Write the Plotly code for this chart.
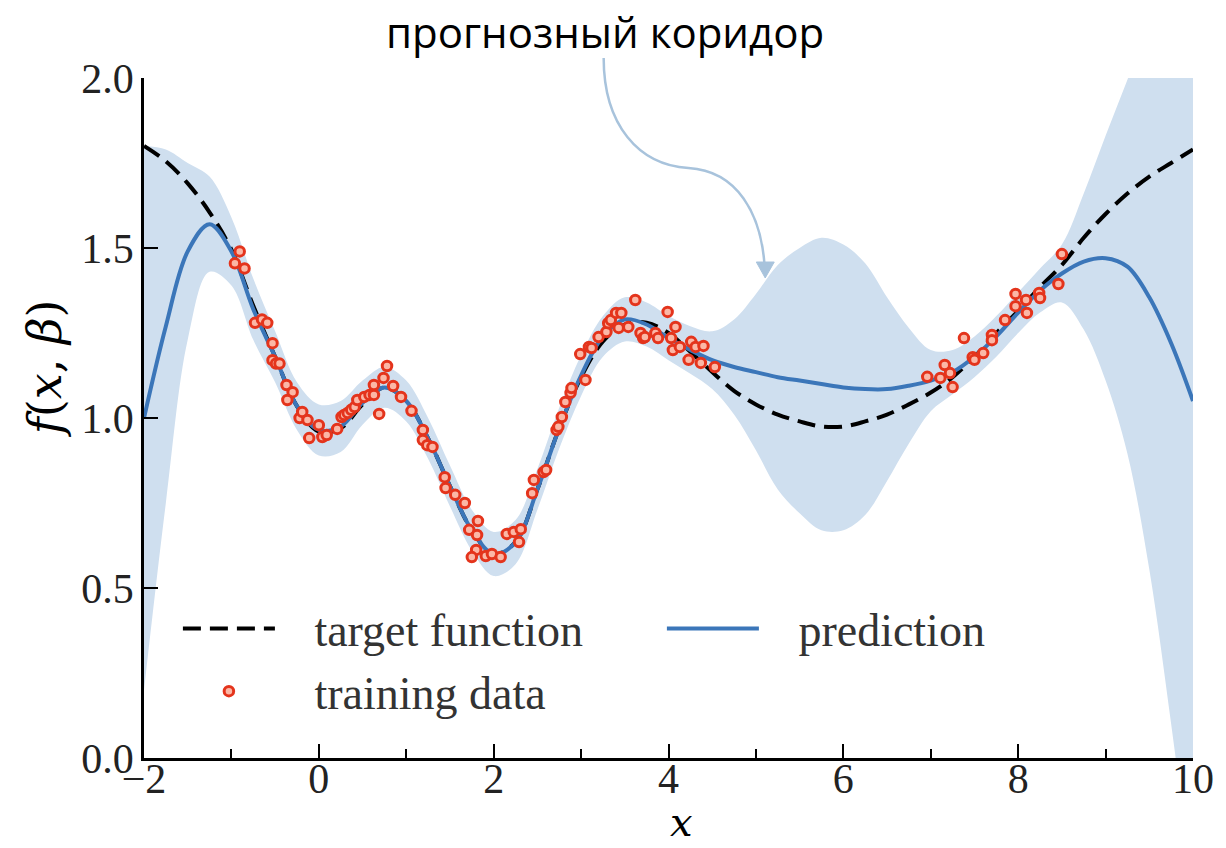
import plotly.graph_objects as go

# Grid on which the curves are sampled
x_grid = [-2.0, -1.75, -1.5, -1.25, -1.0, -0.75, -0.5, -0.25, 0.0, 0.25, 0.5, 0.75,
          1.0, 1.25, 1.5, 1.75, 2.0, 2.25, 2.5, 2.75, 3.0, 3.25, 3.5, 3.75,
          4.0, 4.25, 4.5, 4.75, 5.0, 5.25, 5.5, 5.75, 6.0, 6.25, 6.5, 6.75,
          7.0, 7.25, 7.5, 7.75, 8.0, 8.25, 8.5, 8.75, 9.0, 9.25, 9.5, 9.75, 10.0]

# Target function values
target = [1.80, 1.755, 1.69, 1.605, 1.495, 1.33, 1.18, 1.035, 0.96, 0.97, 1.04, 1.09,
          1.05, 0.94, 0.80, 0.67, 0.60, 0.635, 0.79, 0.97, 1.12, 1.225, 1.275, 1.28,
          1.25, 1.195, 1.135, 1.08, 1.04, 1.01, 0.99, 0.975, 0.975, 0.99, 1.01, 1.04,
          1.075, 1.12, 1.18, 1.25, 1.315, 1.385, 1.45, 1.53, 1.60, 1.66, 1.71, 1.75, 1.79]

# Model prediction (mean)
prediction = [1.00, 1.27, 1.49, 1.57, 1.49, 1.32, 1.18, 1.035, 0.965, 0.975, 1.045, 1.09,
              1.05, 0.94, 0.80, 0.67, 0.60, 0.635, 0.79, 0.97, 1.125, 1.24, 1.29, 1.275,
              1.235, 1.20, 1.17, 1.15, 1.135, 1.12, 1.11, 1.10, 1.09, 1.085, 1.085, 1.095,
              1.11, 1.135, 1.18, 1.24, 1.31, 1.375, 1.425, 1.46, 1.47, 1.445, 1.355, 1.22, 1.05]

# Half-width of the prediction corridor
half_width = [0.80, 0.52, 0.26, 0.14, 0.10, 0.09, 0.075, 0.07, 0.075, 0.075, 0.065, 0.06,
              0.06, 0.06, 0.06, 0.06, 0.065, 0.065, 0.06, 0.06, 0.06, 0.06, 0.065, 0.065,
              0.065, 0.07, 0.085, 0.14, 0.23, 0.33, 0.39, 0.43, 0.42, 0.37, 0.27, 0.17,
              0.09, 0.065, 0.06, 0.06, 0.06, 0.065, 0.085, 0.20, 0.36, 0.55, 0.80, 1.12, 1.45]

# Noisy training observations
train_x = [-0.96, -0.905, -0.85, -0.73, -0.65, -0.59, -0.53, -0.53, -0.49, -0.45,
           -0.37, -0.30, -0.36, -0.22, -0.19, -0.13, -0.11, 0.0, 0.04, 0.09,
           0.21, 0.26, 0.29, 0.33, 0.37, 0.41, 0.44, 0.52, 0.58, 0.63,
           0.63, 0.69, 0.74, 0.78, 0.85, 0.94, 1.06, 1.19, 1.19, 1.24,
           1.30, 1.44, 1.45, 1.56, 1.67, 1.82, 1.72, 1.81, 1.80, 1.75,
           1.91, 1.98, 2.08, 2.15, 2.23, 2.29, 2.31, 2.44, 2.46, 2.57,
           2.60, 2.72, 2.74, 2.78, 2.82, 2.88, 2.89, 3.05, 2.99, 3.09,
           3.12, 3.20, 3.29, 3.31, 3.34, 3.40, 3.46, 3.43, 3.54, 3.62,
           3.68, 3.71, 3.73, 3.85, 3.88, 3.99, 4.08, 4.03, 4.05, 4.13,
           4.26, 4.31, 4.40, 4.23, 4.37, 4.53,
           6.96, 7.11, 7.16, 7.22, 7.25, 7.38, 7.48, 7.50, 7.60, 7.70,
           7.70, 7.85, 7.97, 7.97, 8.09, 8.10, 8.24, 8.25, 8.46, 8.50]
train_y = [1.455, 1.49, 1.44, 1.28, 1.29, 1.28, 1.22, 1.17, 1.16, 1.16,
           1.097, 1.076, 1.053, 1.0, 1.018, 0.994, 0.941, 0.979, 0.944, 0.95,
           0.968, 1.003, 1.009, 1.015, 1.024, 1.032, 1.053, 1.062, 1.068, 1.068,
           1.097, 1.012, 1.118, 1.153, 1.094, 1.062, 1.021, 0.965, 0.935, 0.92,
           0.915, 0.826, 0.794, 0.774, 0.75, 0.697, 0.671, 0.656, 0.612, 0.591,
           0.594, 0.60, 0.591, 0.659, 0.665, 0.635, 0.673, 0.779, 0.818, 0.841,
           0.847, 0.965, 0.974, 1.003, 1.047, 1.074, 1.088, 1.112, 1.188, 1.209,
           1.206, 1.238, 1.253, 1.279, 1.288, 1.309, 1.309, 1.265, 1.268, 1.347,
           1.25, 1.235, 1.238, 1.25, 1.235, 1.312, 1.268, 1.235, 1.2, 1.209,
           1.224, 1.209, 1.212, 1.171, 1.162, 1.15,
           1.121, 1.118, 1.156, 1.132, 1.091, 1.235, 1.179, 1.171, 1.191, 1.244,
           1.229, 1.288, 1.365, 1.329, 1.347, 1.309, 1.368, 1.353, 1.394, 1.482]

x_ticks = [-2, 0, 2, 4, 6, 8, 10]
y_ticks = [0.0, 0.5, 1.0, 1.5, 2.0]

upper = [m + w for m, w in zip(prediction, half_width)]
lower = [m - w for m, w in zip(prediction, half_width)]

W, H = 1226, 848
ML, MR, MT, MB = 144, 30, 78, 90
PW, PH = W - ML - MR, H - MT - MB


def px(xp, yp):
    """Convert page pixel position to paper coordinates."""
    return (xp - ML) / PW, (H - MB - yp) / PH


SERIF = "Liberation Serif"
MATH = "DejaVu Serif"
BAND = "#cfdfef"
BLUE = "#3b76b9"
PAD = "\u00a0\u00a0\u00a0"  # gap between legend symbol and label

fig = go.Figure()

fig.add_trace(go.Scatter(x=x_grid, y=lower, mode="lines", line=dict(width=0, shape="spline"),
                         showlegend=False, hoverinfo="skip"))
fig.add_trace(go.Scatter(x=x_grid, y=upper, mode="lines", line=dict(width=0, shape="spline"),
                         fill="tonexty", fillcolor=BAND, showlegend=False, hoverinfo="skip"))
fig.add_trace(go.Scatter(x=x_grid, y=target, mode="lines", name=PAD + "target function",
                         line=dict(color="black", width=4, dash="18px,9px", shape="spline")))
fig.add_trace(go.Scatter(x=x_grid, y=prediction, mode="lines", name=PAD + "prediction",
                         line=dict(color=BLUE, width=4, shape="spline")))
fig.add_trace(go.Scatter(x=train_x, y=train_y, mode="markers", name=PAD + "training data",
                         marker=dict(symbol="circle", size=9.5, color="#fbb7a6",
                                     line=dict(color="#e4341c", width=3))))

axis_common = dict(showgrid=False, zeroline=False, showline=True, linecolor="black",
                   linewidth=2.5, ticks="inside", tickcolor="black", tickwidth=2,
                   ticklen=14, tickfont=dict(family=SERIF, size=42, color="#222"))

fig.update_xaxes(range=[-2, 10], tickvals=x_ticks,
                 ticktext=[("−" + str(-v)) if v < 0 else str(v) for v in x_ticks],
                 minor=dict(dtick=1, tick0=-1, ticks="inside", ticklen=9, tickwidth=2, tickcolor="black"),
                 ticklabelstandoff=-18, **axis_common)
fig.update_yaxes(range=[0, 2], tickvals=y_ticks, ticktext=[f"{v:.1f}" for v in y_ticks],
                 ticklabelstandoff=-1, **axis_common)

annotations = []
tx, ty = px(606, 31)
annotations.append(dict(text="прогнозный коридор", x=tx, y=ty, xref="paper", yref="paper",
                        showarrow=False, xanchor="center", yanchor="middle",
                        font=dict(family="Open Sans", size=42, color="black")))
lx, ly = px(45, 368)
annotations.append(dict(text="<i>f</i>(<i>x</i>, <i>β</i>)", x=lx, y=ly, xref="paper", yref="paper",
                        showarrow=False, textangle=-90, xanchor="center", yanchor="middle",
                        font=dict(family=MATH, size=46, color="black")))
bx, by = px(683, 847)
annotations.append(dict(text="<i>x</i>", x=bx, y=by, xref="paper", yref="paper",
                        showarrow=False, xanchor="center", yanchor="bottom",
                        font=dict(family=MATH, size=40, color="black")))


def path_from(points, cmds):
    parts = []
    it = iter(points)
    for c, n in cmds:
        coords = []
        for _ in range(n):
            a, b = px(*next(it))
            coords.append(f"{a:.4f},{b:.4f}")
        parts.append(c + " " + " ".join(coords))
    return " ".join(parts)


ARROW = "#a8c3dc"
curve = path_from([(605, 58), (605, 125), (640, 165), (690, 168),
                   (740, 171), (762, 215), (766, 262)],
                  [("M", 1), ("C", 3), ("C", 3)])
head = path_from([(758, 262), (776, 262), (767, 278)], [("M", 1), ("L", 1), ("L", 1)]) + " Z"

shapes = [
    dict(type="path", path=curve, xref="paper", yref="paper",
         line=dict(color=ARROW, width=2.5), layer="above"),
    dict(type="path", path=head, xref="paper", yref="paper",
         line=dict(color=ARROW, width=1), fillcolor=ARROW, layer="above"),
]

fig.update_layout(
    width=W, height=H,
    margin=dict(l=ML, r=MR, t=MT, b=MB),
    paper_bgcolor="white", plot_bgcolor="white",
    annotations=annotations, shapes=shapes,
    legend=dict(orientation="h", traceorder="normal",
                x=px(178, 0)[0], y=px(0, 660)[1], xanchor="left", yanchor="middle",
                entrywidth=377, entrywidthmode="pixels", itemwidth=92,
                font=dict(family=SERIF, size=46, color="#333"), bgcolor="rgba(0,0,0,0)",
                tracegroupgap=0),
)

fig.write_html("out.html")
